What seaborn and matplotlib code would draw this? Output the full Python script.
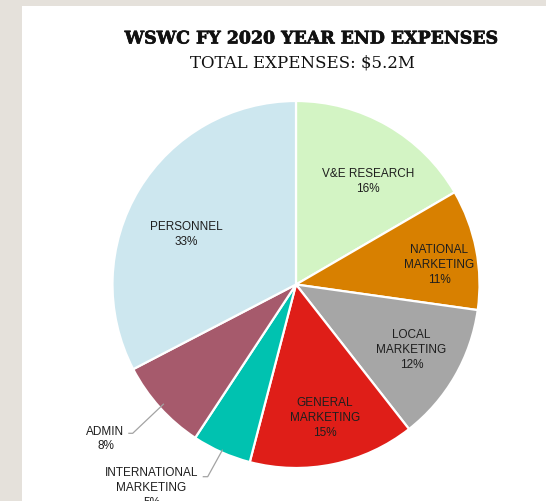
import numpy as np
import matplotlib
matplotlib.use("Agg")
import matplotlib.pyplot as plt
import matplotlib.patheffects as pe
import seaborn as sns
from matplotlib.patches import Rectangle

categories = ["V&E RESEARCH", "NATIONAL\nMARKETING", "LOCAL\nMARKETING",
              "GENERAL\nMARKETING", "INTERNATIONAL\nMARKETING", "ADMIN", "PERSONNEL"]
values = [16.6, 10.6, 12.2, 14.6, 5.2, 8.1, 32.6]
pct_labels = ["16%", "11%", "12%", "15%", "5%", "8%", "33%"]
colors = ["#d3f4c4", "#d88000", "#a6a6a6", "#df1e18", "#00c2b0", "#a65a6c", "#cde7ef"]
title = "WSWC FY 2020 YEAR END EXPENSES"
subtitle = "TOTAL EXPENSES: $5.2M"

sns.set_theme(style="white")
plt.rcParams['font.family'] = ['Liberation Sans', 'DejaVu Sans']

W, H = 546, 502
fig = plt.figure(figsize=(W / 100, H / 100), dpi=100)
fig.patch.set_facecolor("#e5e1db")
fig.patches.append(Rectangle((22 / W, 0), 1 - 22 / W, (H - 7) / H,
                             transform=fig.transFigure, facecolor="white",
                             edgecolor="none", zorder=-1))

ax = fig.add_axes([0, 0, 1, 1], zorder=2)
ax.patch.set_alpha(0)

cx, cy, R = 296, H - 285.5, 183.5
wedges, _ = ax.pie(values, colors=colors, startangle=90, counterclock=False,
                   center=(cx, cy), radius=R,
                   wedgeprops=dict(edgecolor="white", linewidth=1.6))
ax.set_xlim(0, W)
ax.set_ylim(0, H)
ax.set_aspect("equal")
ax.axis("off")

txt_color = "#1e1e1e"
fs = 8.5
ls = 1.32
# (radius fraction, angle offset in degrees) for inside labels
inside_pos = [(0.69, -4.6), (0.79, -2.9), (0.72, 0.9), (0.74, 0.6), None, None, (0.66, 6.5)]
for w, lab, p, pos in zip(wedges, categories, pct_labels, inside_pos):
    if pos is None:
        continue
    d, off = pos
    mid = np.deg2rad((w.theta1 + w.theta2) / 2 + off)
    ax.text(cx + d * R * np.cos(mid), cy + d * R * np.sin(mid),
            f"{lab}\n{p}", ha="center", va="center", fontsize=fs,
            color=txt_color, linespacing=ls)

# outside labels with leader lines
line_color = "#a3a3a3"
outside = {4: dict(inner=0.985, elbow=(207.7, H - 477.7), end=(202.7, H - 477.7), text=(151.5, H - 488)),
           5: dict(inner=0.97, elbow=(132.7, H - 434.3), end=(128.3, H - 434.3), text=(105.5, H - 439))}
for i, o in outside.items():
    w = wedges[i]
    mid = np.deg2rad((w.theta1 + w.theta2) / 2)
    p0 = (cx + o["inner"] * R * np.cos(mid), cy + o["inner"] * R * np.sin(mid))
    ax.plot([p0[0], o["elbow"][0], o["end"][0]], [p0[1], o["elbow"][1], o["end"][1]],
            color=line_color, lw=0.9, solid_capstyle="butt")
    ax.text(o["text"][0], o["text"][1], f"{categories[i]}\n{pct_labels[i]}",
            ha="center", va="center", fontsize=fs, color=txt_color, linespacing=ls)

fig.text(311.5 / W, 1 - 40 / H, title, ha="center", va="center",
         fontsize=12.5, fontweight="bold", family=["DejaVu Serif"], color="#111111",
         path_effects=[pe.withStroke(linewidth=0.5, foreground="#111111")])
fig.text(303 / W, 1 - 62.5 / H, subtitle, ha="center", va="center",
         fontsize=12, family=["DejaVu Serif"], color="#111111")

fig.savefig("out.png", dpi=100)
